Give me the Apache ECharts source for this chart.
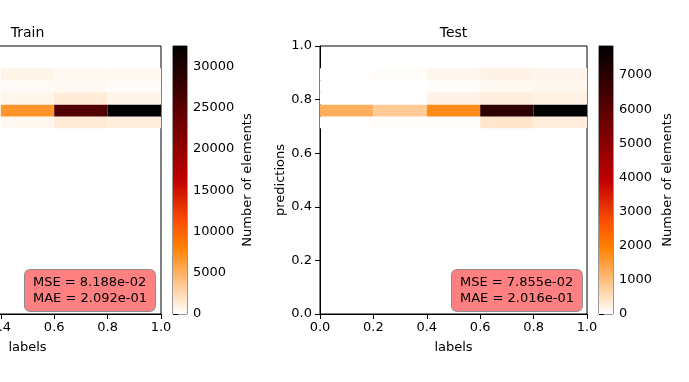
<!DOCTYPE html>
<html>
<head>
<meta charset="utf-8">
<script src="https://cdn.jsdelivr.net/npm/echarts@6/dist/echarts.min.js"></script>
<style>
  html, body { margin: 0; padding: 0; background: #fff; }
  #chart { width: 689px; height: 382px; }
</style>
</head>
<body>
<div id="chart"></div>
<script>
// bin edges of the 2D histogram
const xEdges = [0.0, 0.2, 0.4, 0.6, 0.8, 1.0]
const yEdges = [0.693, 0.737, 0.782, 0.827, 0.872, 0.917]

// counts[row][col], row 0 = lowest prediction bin; null = outside the visible figure
const trainCounts = [
  [null, null, 490, 1300, 1120],
  [null, null, 6800, 25700, 32500],
  [null, null, 600, 1300, 700],
  [null, null, 300, 400, 230],
  [null, null, 730, 400, 400],
]
const testCounts = [
  [0, 40, 30, 390, 260],
  [1250, 800, 1770, 6900, 7850],
  [0, 0, 180, 260, 210],
  [0, 0, 45, 115, 130],
  [0, 45, 130, 180, 150],
]
const trainMax = 32500
const testMax = 7850

const trainBarTicks = [0, 5000, 10000, 15000, 20000, 25000, 30000]
const testBarTicks = [0, 1000, 2000, 3000, 4000, 5000, 6000, 7000]

const trainScores = ['MSE = 8.188e-02', 'MAE = 2.092e-01']
const testScores = ['MSE = 7.855e-02', 'MAE = 2.016e-01']

// gist_heat_r sampled at k/12 (exact, the map is piecewise linear there)
const cmap = ['#ffffff', '#ffd5aa', '#ffaa55', '#ff8000', '#ff5500', '#df2b00', '#bf0000',
  '#9f0000', '#800000', '#600000', '#400000', '#200000', '#000000']

const FONT = 'DejaVu Sans'
const INK = '#000'

function cells(counts) {
  const out = []
  counts.forEach((row, r) => row.forEach((c, k) => {
    if (c == null) return
    out.push([xEdges[k], xEdges[k + 1], yEdges[r], yEdges[r + 1], c])
  }))
  return out
}

function renderCell(params, api) {
  const p0 = api.coord([api.value(0), api.value(3)])
  const p1 = api.coord([api.value(1), api.value(2)])
  return {
    type: 'rect',
    shape: { x: p0[0], y: p0[1], width: p1[0] - p0[0], height: p1[1] - p0[1] },
    style: { fill: api.visual('color') },
  }
}

function renderBar(params, api) {
  const p0 = api.coord([0, api.value(1)])
  const p1 = api.coord([1, api.value(0)])
  const stops = cmap.map((c, i) => ({ offset: 1 - i / 12, color: c })).reverse()
  return {
    type: 'rect',
    shape: { x: p0[0], y: p0[1], width: p1[0] - p0[0], height: p1[1] - p0[1] },
    style: { fill: new echarts.graphic.LinearGradient(0, 0, 0, 1, stops) },
  }
}

const tickLabel = { color: INK, fontSize: 13, fontFamily: FONT }
const line = { show: true, onZero: false, lineStyle: { color: INK, width: 1 } }
const tick = { show: true, inside: false, length: 5, lineStyle: { color: INK, width: 1 } }

function plotAxes(grid) {
  const x = {
    type: 'value', gridIndex: grid, min: 0, max: 1, interval: 0.2,
    axisLine: line, axisTick: tick, splitLine: { show: false },
    axisLabel: { ...tickLabel, margin: 7, formatter: (v) => v.toFixed(1) },
    name: 'labels', nameLocation: 'middle', nameGap: 27,
    nameTextStyle: { color: INK, fontSize: 13, fontFamily: FONT },
  }
  const y = {
    type: 'value', gridIndex: grid, min: 0, max: 1, interval: 0.2,
    axisLine: line, axisTick: tick, splitLine: { show: false },
    axisLabel: { ...tickLabel, margin: 8, formatter: (v) => v.toFixed(1) },
    name: 'predictions', nameLocation: 'middle', nameGap: 30,
    nameTextStyle: { color: INK, fontSize: 13, fontFamily: FONT },
  }
  return [x, y]
}

function barAxes(grid, max, ticks, gap) {
  const x = { type: 'value', gridIndex: grid, min: 0, max: 1, show: false }
  const y = {
    type: 'value', gridIndex: grid, position: 'right', min: 0, max: max,
    axisLine: { show: false }, splitLine: { show: false },
    axisTick: { ...tick, customValues: ticks },
    axisLabel: { ...tickLabel, margin: 6, customValues: ticks, formatter: (v) => String(v) },
    name: 'Number of elements', nameLocation: 'middle', nameRotate: 90, nameGap: gap,
    nameTextStyle: { color: INK, fontSize: 13, fontFamily: FONT },
  }
  return [x, y]
}

const [trainX, trainY] = plotAxes(0)
const [trainBX, trainBY] = barAxes(1, trainMax, trainBarTicks, 54)
const [testX, testY] = plotAxes(2)
const [testBX, testBY] = barAxes(3, testMax, testBarTicks, 48)

const frame = { show: true, borderColor: INK, borderWidth: 1, backgroundColor: 'transparent', outerBoundsMode: 'none', containLabel: false }
const barFrame = { show: true, borderColor: '#333', borderWidth: 1, backgroundColor: 'transparent', outerBoundsMode: 'none', containLabel: false }

function scoreBox(left, lines) {
  return {
    type: 'text', left: left, top: 269, z: 100,
    style: {
      text: lines.join('\n'), font: '13px "DejaVu Sans"', fill: INK,
      backgroundColor: '#ff8080', borderColor: 'rgba(0,0,0,0.45)', borderWidth: 1,
      borderRadius: 5, padding: [5, 8], lineHeight: 15.5,
    },
  }
}

const chart = echarts.init(document.getElementById('chart'), null, { renderer: 'canvas' })
chart.setOption({
  animation: false,
  backgroundColor: '#fff',
  textStyle: { fontFamily: FONT },
  title: [
    { text: 'Train', left: 27.5, top: 26, textAlign: 'center', padding: 0,
      textStyle: { fontSize: 14, fontWeight: 'normal', color: INK, fontFamily: FONT } },
    { text: 'Test', left: 453.5, top: 26, textAlign: 'center', padding: 0,
      textStyle: { fontSize: 14, fontWeight: 'normal', color: INK, fontFamily: FONT } },
  ],
  grid: [
    { left: -106, top: 46, width: 267, height: 268, ...frame },
    { left: 173, top: 46, width: 14, height: 268, ...barFrame },
    { left: 320, top: 46, width: 267, height: 268, ...frame },
    { left: 599, top: 46, width: 14, height: 268, ...barFrame },
  ],
  xAxis: [trainX, trainBX, testX, testBX],
  yAxis: [trainY, trainBY, testY, testBY],
  visualMap: [
    { type: 'continuous', show: false, seriesIndex: 0, dimension: 4, min: 0, max: trainMax, inRange: { color: cmap } },
    { type: 'continuous', show: false, seriesIndex: 2, dimension: 4, min: 0, max: testMax, inRange: { color: cmap } },
  ],
  series: [
    { type: 'custom', xAxisIndex: 0, yAxisIndex: 0, data: cells(trainCounts), renderItem: renderCell, encode: { x: [0, 1], y: [2, 3] } },
    { type: 'custom', xAxisIndex: 1, yAxisIndex: 1, data: [[0, trainMax]], renderItem: renderBar, encode: { y: [0, 1] } },
    { type: 'custom', xAxisIndex: 2, yAxisIndex: 2, data: cells(testCounts), renderItem: renderCell, encode: { x: [0, 1], y: [2, 3] } },
    { type: 'custom', xAxisIndex: 3, yAxisIndex: 3, data: [[0, testMax]], renderItem: renderBar, encode: { y: [0, 1] } },
  ],
  graphic: [scoreBox(24, trainScores), scoreBox(451, testScores)],
})
</script>
</body>
</html>
